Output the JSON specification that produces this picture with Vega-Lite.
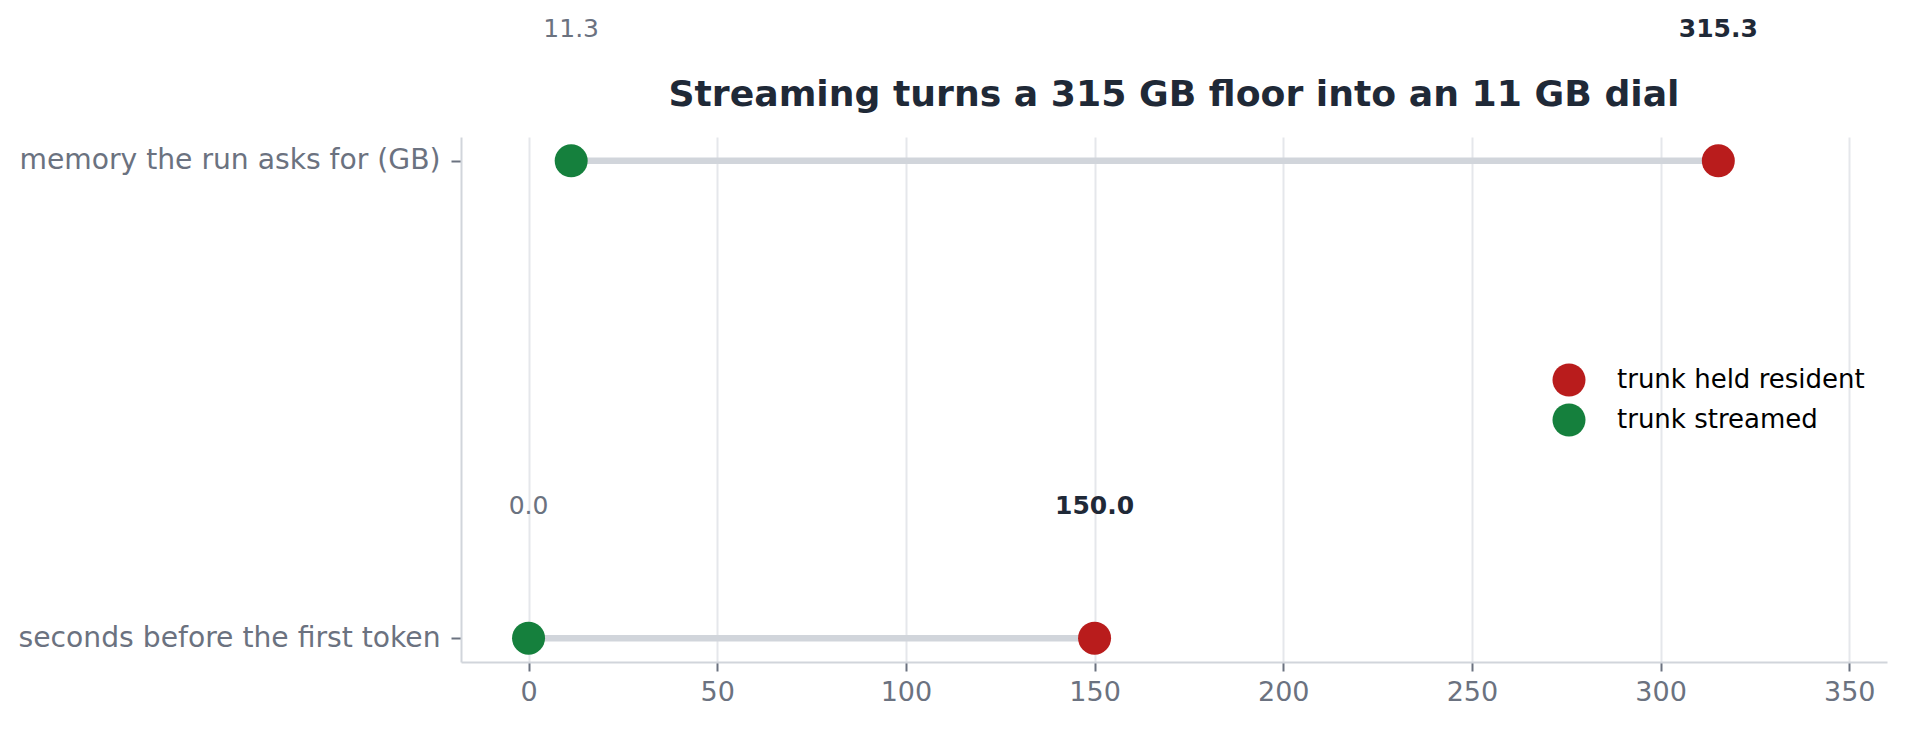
{
  "$schema": "https://vega.github.io/schema/vega-lite/v6.json",
  "autosize": {"type": "none"},
  "width": 1426,
  "height": 525,
  "padding": {"left": 461, "top": 137, "right": 19, "bottom": 67},
  "background": "white",
  "config": {"view": {"stroke": null}},
  "title": {
    "text": "Streaming turns a 315 GB floor into an 11 GB dial",
    "anchor": "middle",
    "frame": "group",
    "font": "DejaVu Sans",
    "fontSize": 36.2,
    "fontWeight": "bold",
    "color": "#1f2937",
    "baseline": "alphabetic",
    "offset": -125
  },
  "data": {
    "values": [
      {"metric": "memory the run asks for (GB)", "series": "trunk held resident", "value": 315.3},
      {"metric": "memory the run asks for (GB)", "series": "trunk streamed", "value": 11.3},
      {"metric": "seconds before the first token", "series": "trunk held resident", "value": 150.0},
      {"metric": "seconds before the first token", "series": "trunk streamed", "value": 0.0}
    ]
  },
  "encoding": {
    "y": {
      "field": "metric",
      "type": "nominal",
      "title": null,
      "scale": {"type": "point", "padding": 0.05, "domain": ["memory the run asks for (GB)", "seconds before the first token"]},
      "axis": {
        "labelFont": "DejaVu Sans",
        "labelFontSize": 28.2,
        "labelColor": "#6b7280",
        "labelPadding": 11,
        "tickSize": 10,
        "tickColor": "#6b7280",
        "tickWidth": 2,
        "domainColor": "#d1d5db",
        "domainWidth": 2,
        "grid": false,
        "labelLimit": 600
      }
    }
  },
  "layer": [
    {
      "mark": {"type": "rule", "stroke": "#d1d5db", "strokeWidth": 6.5, "strokeCap": "butt"},
      "encoding": {
        "x": {
          "aggregate": "min",
          "field": "value",
          "type": "quantitative",
          "title": null,
          "scale": {"domain": [-17.9, 360], "nice": false, "zero": false},
          "axis": {
            "values": [0, 50, 100, 150, 200, 250, 300, 350],
            "labelFont": "DejaVu Sans",
            "labelFontSize": 27,
            "labelColor": "#6b7280",
            "labelPadding": 8,
            "tickSize": 9,
            "tickColor": "#6b7280",
            "tickWidth": 2,
            "domainColor": "#d1d5db",
            "domainWidth": 2,
            "grid": true,
            "gridColor": "#e5e7eb",
            "gridWidth": 2
          }
        },
        "x2": {"aggregate": "max", "field": "value"}
      }
    },
    {
      "mark": {"type": "point", "filled": true, "shape": "circle", "size": 1089, "opacity": 1, "strokeWidth": 0},
      "encoding": {
        "x": {"field": "value", "type": "quantitative", "title": null},
        "color": {
          "field": "series",
          "type": "nominal",
          "scale": {"domain": ["trunk held resident", "trunk streamed"], "range": ["#b91c1c", "#15803d"]},
          "legend": {
            "title": null,
            "orient": "none",
            "legendX": 1091.5,
            "legendY": 226.5,
            "padding": 0,
            "rowPadding": 7,
            "symbolType": "circle",
            "symbolSize": 1089,
            "symbolStrokeWidth": 0,
            "symbolOpacity": 1,
            "labelFont": "DejaVu Sans",
            "labelFontSize": 26,
            "labelColor": "#000000",
            "labelOffset": 31.5,
            "labelLimit": 500
          }
        }
      }
    },
    {
      "transform": [{"filter": "datum.series === 'trunk streamed'"}],
      "mark": {"type": "text", "font": "DejaVu Sans", "fontSize": 25, "color": "#6b7280", "baseline": "alphabetic", "align": "center", "dy": -124},
      "encoding": {
        "x": {"field": "value", "type": "quantitative", "title": null},
        "text": {"field": "value", "type": "quantitative", "format": ".1f"}
      }
    },
    {
      "transform": [{"filter": "datum.series === 'trunk held resident'"}],
      "mark": {"type": "text", "font": "DejaVu Sans", "fontSize": 25, "fontWeight": "bold", "color": "#1f2937", "baseline": "alphabetic", "align": "center", "dy": -124},
      "encoding": {
        "x": {"field": "value", "type": "quantitative", "title": null},
        "text": {"field": "value", "type": "quantitative", "format": ".1f"}
      }
    }
  ]
}
